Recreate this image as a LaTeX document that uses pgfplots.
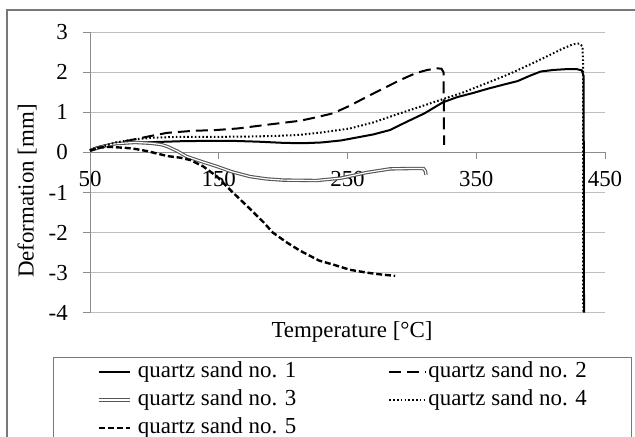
\documentclass[border=0pt]{standalone}
\usepackage{fontspec}
\setmainfont{Liberation Serif}
\usepackage{pgfplots}
\pgfplotsset{compat=1.18}
\definecolor{gridgray}{RGB}{190,190,190}
\definecolor{axisgray}{RGB}{140,140,140}
\definecolor{framegray}{RGB}{120,120,120}
\definecolor{s3gray}{RGB}{85,85,85}

\pgfplotsset{
    legend image code/.code={\draw[#1] (0bp,0bp) -- (31bp,0bp); \path (36bp,0bp);},
    wideleg/.style={legend image code/.code={\draw[##1] (0bp,0bp) -- (37bp,0bp);}},
    s1/.style={black, line width=2bp},
    s2/.style={black, line width=2bp, dash pattern=on 12bp off 6bp},
    s3/.style={s3gray, line width=1.1bp, double=white, double distance=1.2bp},
    s4/.style={black, line width=2bp, dash pattern=on 1.6bp off 2.2bp},
    s5/.style={black, line width=2.4bp, dash pattern=on 6bp off 2.8bp},
}

\begin{document}
\begin{tikzpicture}[x=1bp,y=1bp]
\path[use as bounding box] (0,0) rectangle (635,437);
\draw[framegray, line width=1.2bp] (7,427) rectangle (660,-30);
\begin{axis}[
    at={(90bp,124.3bp)}, anchor=south west,
    scale only axis, width=515bp, height=280.4bp,
    xmin=50, xmax=450, ymin=-4, ymax=3,
    clip=false,
    axis x line=middle, axis y line=left,
    axis line style={axisgray, line width=1bp, -},
    every inner x axis line/.append style={-},
    every outer y axis line/.append style={-},
    hide obscured x ticks=false, hide obscured y ticks=false,
    xtick={50,150,250,350,450},
    xticklabels={50,150,250,350,450},
    ytick={-4,-3,-2,-1,0,1,2,3},
    yticklabels={-4,-3,-2,-1,0,1,2,3},
    tick align=outside, major tick length=7bp,
    tick style={axisgray, line width=1bp},
    ymajorgrids, grid style={gridgray, line width=1.2bp},
    ticklabel style={font=\fontsize{23}{27}\selectfont},
    xticklabel style={anchor=center, inner sep=0pt, yshift=-20bp},
    yticklabel style={anchor=east, inner sep=0pt, xshift=-15bp},
    legend columns=2,
    legend cell align=left,
    legend style={at={(axis description cs:-0.0718,-0.158)}, anchor=north west,
        draw=framegray, line width=1bp, inner xsep=44bp, inner ysep=3bp,
        font=\fontsize{23}{27}\selectfont,
        row sep=5bp,
        /tikz/every even column/.append style={column sep=91bp},
        /tikz/every odd column/.append style={column sep=0bp},
        nodes={inner sep=1bp, text height=16bp, text depth=5bp}},
]
\addplot[s1] coordinates {
(50,0.04)(53,0.1)(57,0.14)(62,0.18)(70,0.22)(80,0.24)(100,0.26)(120,0.28)
(140,0.29)(160,0.29)(180,0.27)(200,0.24)(215,0.23)(230,0.25)(245,0.3)
(255,0.36)(270,0.45)(283,0.56)(295,0.75)(310,0.98)(324,1.25)(335,1.38)
(347,1.48)(360,1.6)(372,1.7)(382,1.78)(392,1.92)(400,2.02)(410,2.06)
(420,2.08)(428,2.08)(432,2.05)(433.4,1.9)(433.7,-4)};
\addlegendentry{quartz sand no. 1}
\addplot[s2, wideleg] coordinates {
(50,0.05)(55,0.12)(62,0.18)(71,0.24)(85,0.33)(100,0.43)(110,0.49)(130,0.54)
(148,0.56)(165,0.6)(187,0.69)(205,0.76)(213,0.79)(226,0.88)(239,0.98)
(252,1.17)(265,1.39)(278,1.6)(291,1.81)(303,1.98)(312,2.06)(320,2.1)
(323,2.09)(324.6,2.0)(325,0.19)};
\addlegendentry{quartz sand no. 2}
\addplot[s3] coordinates {
(50,0.05)(60,0.15)(70,0.22)(85,0.25)(97,0.23)(105,0.2)(110,0.15)(118,0.03)
(125,-0.1)(137,-0.23)(148.6,-0.35)(160,-0.48)(174,-0.6)(187,-0.66)(200,-0.69)
(226,-0.7)(245,-0.64)(265,-0.5)(283,-0.41)(300,-0.4)(309,-0.4)(310.5,-0.47)
(311,-0.56)};
\addlegendentry{quartz sand no. 3}
\addplot[s4, wideleg] coordinates {
(50,0.05)(60,0.15)(70,0.25)(85,0.33)(100,0.37)(120,0.39)(150,0.39)(180,0.4)
(200,0.42)(213,0.44)(230,0.5)(252,0.6)(270,0.75)(291,0.98)(310,1.18)
(324,1.33)(340,1.5)(358,1.73)(375,1.95)(394,2.23)(405,2.4)(415,2.56)
(425,2.7)(430,2.72)(432.5,2.65)(432.9,2.3)(433.1,-4)};
\addlegendentry{quartz sand no. 4}
\addplot[s5] coordinates {
(50,0.05)(57,0.12)(65,0.14)(75,0.12)(83,0.1)(95,0.03)(110,-0.09)(120,-0.13)
(128,-0.19)(138,-0.35)(148.6,-0.6)(161,-1.0)(174,-1.4)(185,-1.75)(192,-2.0)
(203,-2.25)(213,-2.45)(228,-2.7)(239,-2.8)(252,-2.93)(265,-3.0)(277,-3.05)
(287,-3.08)};
\addlegendentry{quartz sand no. 5}
\end{axis}
\node[rotate=90, font=\fontsize{23}{27}\selectfont] at (27,246) {Deformation [mm]};
\node[font=\fontsize{23}{27}\selectfont] at (352,105) {Temperature [°C]};
\end{tikzpicture}
\end{document}
